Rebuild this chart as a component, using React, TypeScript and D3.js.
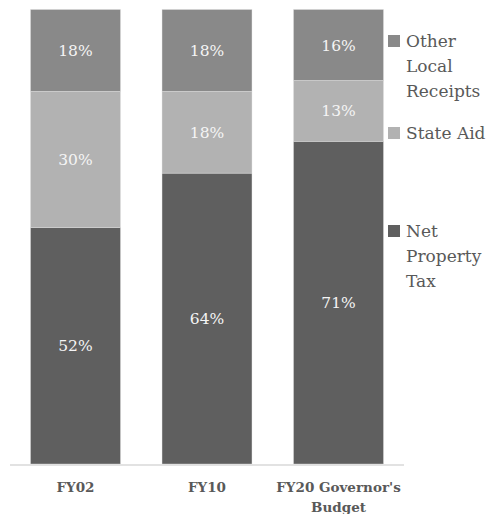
import React from "react";
import * as d3 from "d3";

const categories = ["FY02", "FY10", "FY20 Governor's Budget"];
const categoryLines = [["FY02"], ["FY10"], ["FY20 Governor's", "Budget"]];
const netPropertyTax = [52, 64, 71.0];
const stateAid = [30, 18, 13.4];
const otherLocal = [18, 18, 15.6];
const seriesColors = ["#5f5f5f", "#b2b2b2", "#898989"];
const legendLines = [["Other", "Local", "Receipts"], ["State Aid"], ["Net", "Property", "Tax"]];
const legendColors = ["#898989", "#b2b2b2", "#5f5f5f"];

const W = 489;
const H = 514;
const FONT = "'DejaVu Serif', serif";

export default function App() {
  const x = d3.scaleBand<string>().domain(categories).range([10, 404]).paddingInner(0.316).paddingOuter(0.156);
  const y = d3.scaleLinear().domain([0, 100]).range([464, 9.5]);
  const rows = categories.map((c, i) => ({
    cat: c,
    net: netPropertyTax[i],
    state: stateAid[i],
    other: otherLocal[i],
  }));
  const stack = d3.stack<any>().keys(["net", "state", "other"])(rows);

  const legendY = [41, 133, 231];
  const lineH = 25;

  return (
    <svg width={W} height={H} style={{ position: "absolute", left: 0, top: 0, background: "#fff" }}>
      {stack.map((layer, si) => (
        <g key={si}>
          {layer.map((d, ci) => {
            const x0 = x(categories[ci])!;
            const yTop = y(d[1]);
            const yBot = y(d[0]);
            return (
              <g key={ci}>
                <rect x={x0} y={yTop} width={x.bandwidth()} height={yBot - yTop} fill={seriesColors[si]} stroke="#e0e0e0" strokeWidth={0.4} />
                <text
                  x={x0 + x.bandwidth() / 2}
                  y={(yTop + yBot) / 2}
                  dy="0.36em"
                  textAnchor="middle"
                  fontFamily={FONT}
                  fontSize={15.5}
                  fill="#f5f5f5"
                >
                  {Math.round(d[1] - d[0])}%
                </text>
              </g>
            );
          })}
        </g>
      ))}
      <line x1={10} x2={404} y1={465} y2={465} stroke="#d9d9d9" strokeWidth={1.5} />
      {categoryLines.map((lines, ci) => (
        <text
          key={ci}
          x={x(categories[ci])! + x.bandwidth() / 2}
          y={492}
          textAnchor="middle"
          fontFamily={FONT}
          fontWeight="bold"
          fontSize={13.5}
          fill="#595959"
        >
          {lines.map((l, li) => (
            <tspan key={li} x={x(categories[ci])! + x.bandwidth() / 2} dy={li === 0 ? 0 : 20}>
              {l}
            </tspan>
          ))}
        </text>
      ))}
      {legendLines.map((lines, i) => (
        <g key={i}>
          <rect x={388} y={legendY[i] - 6} width={12} height={12} fill={legendColors[i]} />
          <text x={406} y={legendY[i]} fontFamily={FONT} fontSize={17} fill="#595959">
            {lines.map((l, li) => (
              <tspan key={li} x={406} dy={li === 0 ? "0.36em" : lineH}>
                {l}
              </tspan>
            ))}
          </text>
        </g>
      ))}
    </svg>
  );
}
